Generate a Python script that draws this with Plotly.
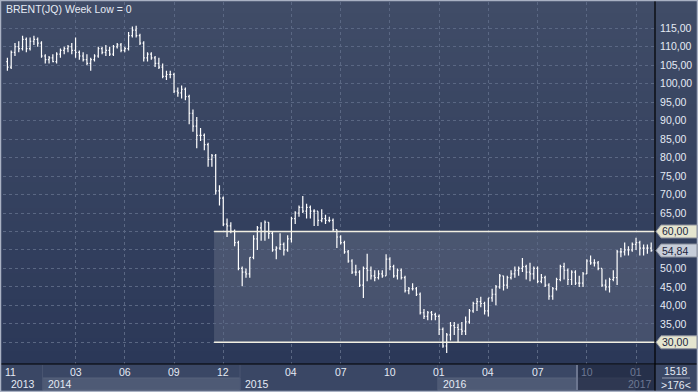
import pandas as pd
import plotly.graph_objects as go

# ---------------- data ----------------
TITLE = "BRENT(JQ) Week Low = 0"
FIRST_WEEK = "2013-10-28"

opens = [106, 104.5, 108.5, 110, 109.5, 112, 109.5, 111.5, 112, 111,
         107.5, 106.5, 107, 106, 108, 109, 109.5, 110, 109, 108.5,
         107.5, 106.5, 105.5, 106.5, 107.5, 109.5, 108.5, 109, 108, 110,
         110.5, 109, 109.5, 113, 114.5, 113, 111, 107, 108, 107,
         105.5, 104.5, 102, 102.5, 102.5, 98, 97.5, 98.5, 96.5, 92,
         88.5, 86, 86, 83.5, 79.5, 80.5, 71, 69, 62, 61.5,
         60, 57, 50, 49, 48.5, 53, 58, 61, 60, 62.5,
         59.5, 55, 55.5, 56.5, 55, 58, 63.5, 65, 66.5, 65.5,
         66.5, 65.5, 65.5, 63, 63.5, 63, 63, 60.5, 58.5, 57,
         54.5, 52, 49, 49, 45.5, 50, 49.5, 48, 47.5, 48.5,
         48, 52.5, 50.5, 48, 49.5, 47.5, 44, 44.5, 44.5, 43,
         38, 37, 38, 37.5, 37, 33.5, 29, 32, 34.5, 34,
         33.5, 33, 35.5, 38.5, 40.5, 41, 40.5, 38.5, 42, 43,
         45, 48, 45.5, 47.5, 48.5, 49.5, 50, 50.5, 49, 48.5,
         50, 46.5, 47.5, 45.5, 42.5, 44.5, 47, 50.5, 49.5, 47,
         49, 46, 46, 48.5, 52, 51.5, 51.5, 50, 45.5, 45,
         47, 47.5, 54.5, 54.5, 55, 55, 56.5, 57, 55.5, 55.5,
         55.5]

highs = [107, 109, 111, 111.5, 113, 112.5, 112.5, 113, 112.5, 111.5,
         108, 107.5, 108, 108.5, 109.5, 110, 110.5, 111, 112.5, 109,
         108.5, 108, 107, 108, 110, 110, 110.5, 110, 110.5, 111,
         111, 110, 114, 115.5, 115.7, 113.5, 111.5, 108.5, 108.5, 107.5,
         107, 105.5, 103.5, 103.5, 103, 99, 99.5, 99, 97, 93,
         91, 88, 86.5, 84, 81, 81, 72.5, 69.5, 63.5, 62.5,
         60.5, 57.5, 50.5, 50, 53, 59, 61.5, 62.5, 63, 62.5,
         60, 56, 59.5, 57, 59, 64, 65.5, 67, 69.6, 67.5,
         67, 66, 65.5, 66, 64.5, 64, 63.5, 60.5, 59, 57.5,
         55, 52.5, 51, 49.5, 50.5, 54, 50.5, 49.5, 49.5, 49.5,
         53.8, 53, 51, 50, 50, 48, 45, 46, 45, 43.5,
         39, 38.5, 38.5, 38, 37.5, 34, 32.5, 35.5, 35.5, 35,
         35.5, 37, 39, 41, 42, 42.3, 41, 42, 44.5, 45.5,
         48.5, 48, 48, 49.5, 50.5, 50.5, 52.8, 51, 51.5, 50.5,
         50.5, 48.5, 48, 46, 45, 47.5, 51, 51.5, 50, 49.5,
         49.5, 48, 49, 52.5, 53.5, 52.5, 52, 50, 47, 47.5,
         49.5, 55, 55.5, 57, 56, 57, 58.3, 57.5, 56.5, 56.5,
         57]

lows = [103.5, 104, 107.5, 108.5, 109, 108.5, 109, 110.5, 110, 107,
        105.5, 105.5, 105.8, 105.5, 107, 108, 108.5, 108, 107, 106.5,
        106, 105, 103.5, 106, 107, 108, 107.5, 107.5, 107.5, 109.5,
        108.5, 108.5, 109, 112.5, 112.5, 110.5, 106, 106, 106.5, 104.5,
        104, 101.5, 101, 101.5, 97.5, 96.5, 96, 95.5, 89, 87,
        82.5, 84.5, 82, 77.5, 77.5, 70, 67, 61.5, 58.5, 59.5,
        56, 49.5, 45.2, 47.5, 47.5, 52.5, 55, 57.5, 57.5, 58,
        54.5, 52.5, 55, 53.5, 54.5, 57, 62, 64, 65, 63.5,
        63.5, 61.5, 61.5, 62.5, 62, 62.5, 60, 55.5, 56.5, 54,
        51.5, 48.5, 48, 45, 42, 46.5, 47, 46.5, 47, 47.5,
        48, 49.5, 47.5, 47, 47, 43.5, 43, 44, 42.5, 37.5,
        36.3, 36, 36, 36, 32, 28.5, 27.1, 30.5, 32, 30,
        32, 32, 35, 38, 38.5, 39.5, 37.5, 37, 41, 40,
        44.5, 44, 44.5, 47, 47.5, 48, 49, 47, 46.5, 47,
        46, 46, 45, 41.5, 41.5, 44, 46.5, 47, 45.5, 45.5,
        45.5, 45, 45, 48.5, 51, 50.5, 49.5, 45, 44, 43.5,
        46.5, 45.5, 53, 53.5, 53.5, 54.5, 55, 53.5, 53.5, 54,
        54.5]

closes = [104.5, 108.5, 110, 109.5, 112, 109.5, 111.5, 112, 111, 107.5,
          106.5, 107, 106, 108, 109, 109.5, 110, 109, 108.5, 107.5,
          106.5, 105.5, 106.5, 107.5, 109.5, 108.5, 109, 108, 110, 110.5,
          109, 109.5, 113, 114.5, 113, 111, 107, 108, 107, 105.5,
          104.5, 102, 102.5, 102.5, 98, 97.5, 98.5, 96.5, 92, 88.5,
          86, 86, 83.5, 79.5, 80.5, 71, 69, 62, 61.5, 60,
          57, 50, 49, 48.5, 53, 58, 61, 60, 62.5, 59.5,
          55, 55.5, 56.5, 55, 58, 63.5, 65, 66.5, 65.5, 66.5,
          65.5, 65.5, 63, 63.5, 63, 63, 60.5, 58.5, 57, 54.5,
          52, 49, 49, 45.5, 50, 49.5, 48, 47.5, 48.5, 48,
          52.5, 50.5, 48, 49.5, 47.5, 44, 44.5, 44.5, 43, 38,
          37, 38, 37.5, 37, 33.5, 29, 32, 34.5, 34, 33.5,
          33, 35.5, 38.5, 40.5, 41, 40.5, 38.5, 42, 43, 45,
          48, 45.5, 47.5, 48.5, 49.5, 50, 50.5, 49, 48.5, 50,
          46.5, 47.5, 45.5, 42.5, 44.5, 47, 50.5, 49.5, 47, 49,
          46, 46, 48.5, 52, 51.5, 51.5, 50, 45.5, 45, 47,
          47.5, 54.5, 54.5, 55, 55, 56.5, 57, 55.5, 55.5, 55.5,
          54.84]

price_ticks = [30, 35, 40, 45, 50, 55, 60, 65, 70, 75, 80, 85, 90, 95, 100, 105, 110, 115]
covered_ticks = [30, 55, 60]          # tick labels hidden behind the price markers
month_labels = ["11", "03", "06", "09", "12", "04", "07", "10", "01", "04", "07", "10", "01"]
month_keys = ["2013-11", "2014-03", "2014-06", "2014-09", "2014-12", "2015-04", "2015-07",
              "2015-10", "2016-01", "2016-04", "2016-07", "2016-10", "2017-01"]
year_labels = ["2013", "2014", "2015", "2016", "2017"]
lighter_years = ["2014", "2016"]
zone_low, zone_high = 30, 60
zone_start = "2014-11-14"
footer_count = "1518"
footer_visible = ">176<"

# ---------------- geometry / style ----------------
W, H = 698, 392
ML, MR, MT, MB = 3, 43, 2, 28
PW, PH = W - ML - MR, H - MT - MB
BAR_PX = 3.787                     # pixels per weekly bar
FONT = "Liberation Sans, Arial, sans-serif"
TXT = "#e4eaf4"
DIM = "#6d7893"


def px_x(px):
    return (px - ML) / PW


def px_y(py):
    return (H - MB - py) / PH


dates = pd.date_range(FIRST_WEEK, periods=len(closes), freq="7D")
x_start = dates[0] - pd.Timedelta(days=7 * (7.4 - ML) / BAR_PX)
x_end = x_start + pd.Timedelta(days=7 * PW / BAR_PX)
y_lo = 115 - (364 - 28.3) / 3.694
y_hi = 115 + (28.3 - 2) / 3.694


def date_px(d):
    return ML + (pd.Timestamp(d) - x_start) / (x_end - x_start) * PW


def month_first_bar(key):
    return dates[dates.strftime("%Y-%m") == key][0]


month_dates = [month_first_bar(k) for k in month_keys]
dim_from_px = 577
tick_text = ["" if v in covered_ticks else ("%.2f" % v).replace(".", ",") for v in price_ticks]

fig = go.Figure()
fig.add_trace(go.Ohlc(
    x=dates, open=opens, high=highs, low=lows, close=closes,
    increasing=dict(line=dict(color="#ffffff", width=1.2)),
    decreasing=dict(line=dict(color="#ffffff", width=1.2)),
    tickwidth=0.3, hoverinfo="skip", showlegend=False,
))

shapes = []
# vertical gradient background (plot + right axis)
top_c, bot_c = (64, 76, 103), (43, 56, 88)
n = 28
for k in range(n):
    t = (k + 0.5) / n
    c = tuple(round(top_c[j] + (bot_c[j] - top_c[j]) * t) for j in range(3))
    y0 = 364 * k / n
    y1 = 364 * (k + 1) / n + 0.6
    shapes.append(dict(type="rect", xref="paper", yref="paper", layer="below",
                       x0=px_x(0), x1=px_x(W), y0=px_y(y1), y1=px_y(y0),
                       line=dict(width=0), fillcolor="rgb(%d,%d,%d)" % c))

# bottom axis background
shapes.append(dict(type="rect", xref="paper", yref="paper", layer="below",
                   x0=px_x(0), x1=px_x(W), y0=px_y(H), y1=px_y(364),
                   line=dict(width=0), fillcolor="#3a4765"))
for yl in lighter_years:
    shapes.append(dict(type="rect", xref="x", yref="paper", layer="below",
                       x0=pd.Timestamp(yl + "-01-01"), x1=pd.Timestamp(str(int(yl) + 1) + "-01-01"),
                       y0=px_y(390), y1=px_y(378),
                       line=dict(width=1, color="#56627c"), fillcolor="#4e5a75"))
for yl in year_labels[1:]:
    shapes.append(dict(type="line", xref="x", yref="paper", layer="below",
                       x0=pd.Timestamp(yl + "-01-01"), x1=pd.Timestamp(yl + "-01-01"),
                       y0=px_y(390), y1=px_y(365), line=dict(width=1, color="#4a5672")))
# dim overlay at the right of the time scale
shapes.append(dict(type="rect", xref="paper", yref="paper", layer="above",
                   x0=px_x(dim_from_px), x1=1, y0=px_y(390), y1=px_y(365),
                   line=dict(width=0), fillcolor="rgba(22,30,52,0.55)"))
shapes.append(dict(type="line", xref="paper", yref="paper", layer="above",
                   x0=px_x(dim_from_px), x1=px_x(dim_from_px), y0=px_y(390), y1=px_y(365),
                   line=dict(width=2, color="#6c7690")))

# highlighted zone 30..60
shapes.append(dict(type="rect", xref="x", yref="y", layer="below",
                   x0=pd.Timestamp(zone_start), x1=x_end, y0=zone_low, y1=zone_high,
                   line=dict(width=0), fillcolor="rgba(255,255,255,0.12)"))
for lvl in (zone_high, zone_low):
    shapes.append(dict(type="line", xref="x", yref="y", layer="above",
                       x0=pd.Timestamp(zone_start), x1=x_end, y0=lvl, y1=lvl,
                       line=dict(width=1.6, color="#f1efe2")))

# frame lines
shapes.append(dict(type="line", xref="paper", yref="paper", layer="above",
                   x0=1, x1=1, y0=px_y(H), y1=px_y(0), line=dict(width=1.2, color="#000000")))
shapes.append(dict(type="line", xref="paper", yref="paper", layer="above",
                   x0=px_x(0), x1=px_x(W), y0=0, y1=0, line=dict(width=1.2, color="#000000")))
shapes.append(dict(type="rect", xref="paper", yref="paper", layer="above",
                   x0=px_x(0.5), x1=px_x(W - 0.5), y0=px_y(H - 0.5), y1=px_y(0.5),
                   line=dict(width=1.5, color="#a9b1c3"), fillcolor="rgba(0,0,0,0)"))
# footer separator
shapes.append(dict(type="line", xref="paper", yref="paper", layer="above",
                   x0=px_x(662), x1=px_x(690), y0=px_y(378), y1=px_y(378),
                   line=dict(width=1, color="#9099ad")))

annotations = []
# price marker boxes
markers = [(zone_high, "#e5e5cf"), (closes[-1], "#c6cdd9"), (zone_low, "#e5e5cf")]
for val, col in markers:
    shapes.append(dict(type="path", xref="paper", yref="y", layer="above",
                       xsizemode="pixel", ysizemode="pixel", xanchor=1, yanchor=val,
                       path="M 1 0 L 6 6.5 L 42 6.5 L 42 -6.5 L 6 -6.5 Z",
                       fillcolor=col, line=dict(width=1, color="#8a8f9c")))
    annotations.append(dict(xref="paper", yref="y", x=px_x(660), y=val, xanchor="left",
                            yanchor="middle", showarrow=False,
                            text=("%.2f" % val).replace(".", ","),
                            font=dict(family=FONT, size=10.5, color="#1c2540")))

# title
annotations.append(dict(xref="paper", yref="paper", x=px_x(4), y=px_y(8.5), xanchor="left",
                        yanchor="middle", showarrow=False, text=TITLE,
                        font=dict(family=FONT, size=10.5, color=TXT)))

# month labels
for lab, d in zip(month_labels, month_dates):
    pxx = date_px(d)
    col = DIM if pxx >= dim_from_px else TXT
    if pxx < 14:
        annotations.append(dict(xref="paper", yref="paper", x=px_x(3), y=px_y(371.5),
                                xanchor="left", yanchor="middle", showarrow=False, text=lab,
                                font=dict(family=FONT, size=10.5, color=col)))
    else:
        annotations.append(dict(xref="x", yref="paper", x=d, y=px_y(371.5),
                                xanchor="center", yanchor="middle", showarrow=False, text=lab,
                                font=dict(family=FONT, size=10.5, color=col)))
# year labels
for yl in year_labels:
    start = pd.Timestamp(yl + "-01-01")
    if start < x_start:
        annotations.append(dict(xref="paper", yref="paper", x=px_x(9), y=px_y(384),
                                xanchor="left", yanchor="middle", showarrow=False, text=yl,
                                font=dict(family=FONT, size=10.5, color=TXT)))
    elif date_px(start) > 620:
        # too close to the scale edge: keep it inside the time scale
        annotations.append(dict(xref="paper", yref="paper", x=px_x(654), y=px_y(384),
                                xanchor="right", yanchor="middle", showarrow=False, text=yl,
                                font=dict(family=FONT, size=10.5, color=DIM)))
    else:
        col = DIM if date_px(start) >= dim_from_px else TXT
        annotations.append(dict(xref="x", yref="paper", x=start, xshift=3, y=px_y(384),
                                xanchor="left", yanchor="middle", showarrow=False, text=yl,
                                font=dict(family=FONT, size=10.5, color=col)))
# footer box texts
annotations.append(dict(xref="paper", yref="paper", x=px_x(676), y=px_y(370.5), xanchor="center",
                        yanchor="middle", showarrow=False, text=footer_count,
                        font=dict(family=FONT, size=10.5, color=TXT)))
annotations.append(dict(xref="paper", yref="paper", x=px_x(676), y=px_y(385), xanchor="center",
                        yanchor="middle", showarrow=False, text=footer_visible,
                        font=dict(family=FONT, size=10.5, color=TXT)))

fig.update_layout(
    width=W, height=H, autosize=False,
    margin=dict(l=ML, r=MR, t=MT, b=MB, pad=0),
    paper_bgcolor="#34415f", plot_bgcolor="rgba(0,0,0,0)",
    separators=", ",
    showlegend=False,
    shapes=shapes, annotations=annotations,
    xaxis=dict(type="date", range=[x_start, x_end], rangeslider=dict(visible=False),
               tickvals=month_dates[1:], showticklabels=False, ticks="",
               showgrid=True, gridcolor="#5a6783", griddash="3px,3px", gridwidth=1,
               zeroline=False, showline=False, fixedrange=True),
    yaxis=dict(side="right", range=[y_lo, y_hi], tickvals=price_ticks, ticktext=tick_text,
               ticks="outside", ticklen=2, tickcolor="rgba(0,0,0,0)",
               tickfont=dict(family=FONT, size=10.5, color=TXT),
               showgrid=True, gridcolor="#5a6783", griddash="3px,3px", gridwidth=1,
               zeroline=False, showline=False, fixedrange=True),
)

fig.write_html("out.html", config={"displayModeBar": False, "staticPlot": True})
